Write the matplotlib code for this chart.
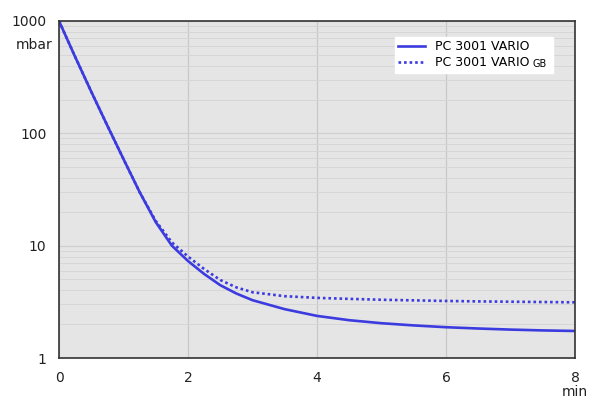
import matplotlib.pyplot as plt
import numpy as np

# Curvas de bombeamento (tempo em min, pressão em mbar)
tempo = [0, 0.25, 0.5, 0.75, 1, 1.25, 1.5, 1.75, 2, 2.25, 2.5, 2.75, 3,
         3.5, 4, 4.5, 5, 5.5, 6, 6.5, 7, 7.5, 8]
pressao_vario = [1000, 480, 235, 117, 59, 30, 16.2, 10, 7.3, 5.6, 4.45, 3.75, 3.27,
                 2.72, 2.37, 2.17, 2.04, 1.95, 1.88, 1.83, 1.79, 1.76, 1.74]
pressao_gb = [1000, 480, 235, 117, 59, 30, 16.6, 10.7, 8.0, 6.2, 4.95, 4.25, 3.85,
              3.55, 3.43, 3.36, 3.3, 3.26, 3.22, 3.19, 3.17, 3.15, 3.13]

xticks = [0, 2, 4, 6, 8]
yticks = [1, 10, 100, 1000]
ytick_labels = ["1", "10", "100", "1000"]

cor = "#3b3be0"

fig = plt.figure(figsize=(6, 4.01), dpi=100)
ax = fig.add_axes([59 / 600, 1 - 358 / 401, 516 / 600, 337 / 401])
ax.set_facecolor("#e5e5e5")

ax.plot(tempo, pressao_vario, color=cor, lw=1.9, label="PC 3001 VARIO     ")
ax.plot(tempo, pressao_gb, color=cor, lw=1.9, ls=(0, (1, 1.1)), label="PC 3001 VARIO")

ax.set_yscale("log")
ax.set_xlim(0, 8)
ax.set_ylim(1, 1000)

ax.set_xticks(xticks)
ax.set_xticklabels([str(x) for x in xticks])
ax.set_yticks(yticks)
ax.set_yticklabels(ytick_labels)
ax.yaxis.set_minor_formatter(plt.NullFormatter())
ax.tick_params(which="both", length=0, labelsize=10, colors="#222222")
ax.tick_params(axis="x", pad=9)
ax.tick_params(axis="y", pad=9)

ax.grid(True, which="major", axis="x", color="#c8c8c8", lw=0.9)
ax.grid(True, which="major", axis="y", color="#cfcfcf", lw=0.9)
ax.grid(True, which="minor", axis="y", color="#d6d6d6", lw=0.7)
ax.set_axisbelow(True)

for s in ax.spines.values():
    s.set_color("#333333")
    s.set_linewidth(1.2)

fig.text(34 / 600, 1 - 45 / 401, "mbar", ha="center", va="center", fontsize=10, color="#222222")
fig.text(575 / 600, 1 - 392 / 401, "min", ha="center", va="center", fontsize=10, color="#222222")

leg = ax.legend(loc="upper right", bbox_to_anchor=(0.957, 0.952), frameon=True, fancybox=False,
                fontsize=9, handlelength=2.2, handletextpad=0.8, borderpad=0.25,
                labelspacing=0.25, borderaxespad=0)
leg.get_frame().set_facecolor("white")
leg.get_frame().set_edgecolor("white")
leg.get_frame().set_alpha(1)

# "GB" menor ao lado do segundo rótulo
fig.canvas.draw()
bb2 = leg.get_texts()[1].get_window_extent()
inv = fig.transFigure.inverted()
x_gb, y_gb = inv.transform((bb2.x1 + 3, bb2.y0 + 2.5))
fig.text(x_gb, y_gb, "GB", fontsize=7, color="black", ha="left", va="baseline")

fig.savefig("out.png", dpi=100)
